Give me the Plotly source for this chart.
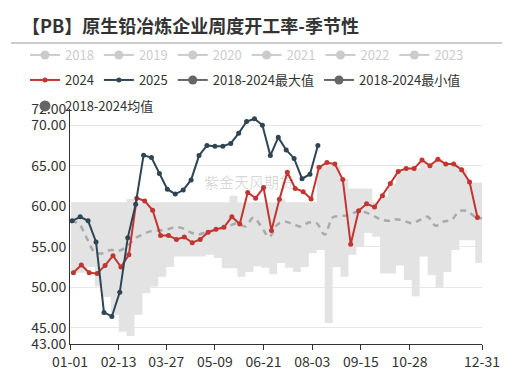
import pandas as pd
import plotly.graph_objects as go

# ---------------- data ----------------
title_text = "【PB】原生铅冶炼企业周度开工率-季节性"
watermark = "紫金天风期货"

tick_dates = ["2023-01-01", "2023-02-13", "2023-03-27", "2023-05-09", "2023-06-21",
              "2023-08-03", "2023-09-15", "2023-10-28", "2023-12-31"]
tick_labels = ["01-01", "02-13", "03-27", "05-09", "06-21", "08-03", "09-15", "10-28", "12-31"]
y_ticks = [43, 45, 50, 55, 60, 65, 70, 72]

hidden_years = ["2018", "2019", "2020", "2021", "2022", "2023"]

v2024 = [51.8, 52.75, 51.8, 51.7, 52.7, 53.9, 52.5, 54.0, 61.0, 60.65,
         59.5, 56.4, 56.4, 55.9, 56.2, 55.5, 55.9, 56.8, 57.15, 57.4,
         58.7, 57.8, 61.7, 61.0, 62.3, 57.0, 60.85, 64.2, 62.2, 61.8,
         60.9, 64.8, 65.4, 65.2, 63.3, 55.3, 59.45, 60.3, 59.9, 61.3,
         62.8, 64.3, 64.65, 64.65, 65.7, 65.0, 65.8, 65.2, 65.2, 64.5,
         63.0, 58.6]

v2025 = [58.2, 58.7, 58.2, 55.6, 46.9, 46.4, 49.4, 56.1, 60.25, 66.3,
         66.0, 64.05, 62.1, 61.5, 62.0, 63.25, 66.25, 67.5, 67.4, 67.4,
         67.75, 69.0, 70.45, 70.8, 70.0, 66.25, 68.5, 66.95, 65.9, 63.4,
         63.95, 67.5]

band_max = [60.5, 60.5, 60.5, 60.5, 60.5, 60.5, 60.5, 60.9, 60.5, 60.5,
            60.5, 60.5, 60.5, 60.5, 60.5, 60.5, 60.5, 60.5, 60.5, 60.5,
            61.3, 60.5, 60.5, 60.5, 60.5, 60.5, 60.85, 60.5, 60.5, 60.5,
            60.5, 64.9, 65.2, 65.1, 63.4, 62.2, 62.2, 62.2, 60.5, 61.3,
            62.8, 64.3, 64.65, 64.65, 65.7, 65.0, 65.8, 65.2, 65.2, 64.5,
            62.9, 62.9, 62.9]

band_min = [51.8, 51.8, 52.5, 50.1, 48.8, 46.6, 44.5, 44.0, 46.6, 49.25,
            50.1, 51.3, 52.5, 53.8, 53.8, 53.8, 53.8, 54.0, 53.6, 52.35,
            52.35, 51.3, 51.9, 52.6, 52.4, 51.6, 53.0, 52.4, 51.9, 52.5,
            54.2, 54.6, 45.6, 52.5, 51.3, 54.0, 55.0, 56.7, 56.25, 51.7,
            51.7, 52.7, 50.9, 48.9, 53.8, 51.5, 49.9, 51.9, 54.6, 55.8,
            55.8, 53.0, 53.0]

band_mean = [58.2, 57.8, 56.0, 54.3, 54.2, 54.6, 54.5, 55.0, 56.0, 56.5,
             56.9, 57.0, 57.1, 57.4, 57.3, 56.8, 56.5, 56.8, 57.0, 57.3,
             57.6, 57.9, 57.5, 58.6, 57.5, 56.2, 57.7, 58.1, 57.8, 57.5,
             58.0, 57.9, 56.5, 58.6, 58.8, 58.9, 59.3, 59.3, 58.9, 58.4,
             58.2, 58.4, 58.2, 57.9, 58.3, 58.7, 57.6, 58.1, 58.3, 59.4,
             59.4, 58.7, 58.5]

# weekly dates mapped onto one common year
d2024 = pd.date_range("2023-01-04", periods=len(v2024), freq="7D")
d2025 = pd.date_range("2023-01-03", periods=len(v2025), freq="7D")
dband = pd.date_range("2023-01-02", periods=len(band_max), freq="7D")

# ---------------- style ----------------
RED = "#c23531"
NAVY = "#2f4554"
GREY = "#666666"
FONT = "Noto Sans CJK SC, Noto Sans, sans-serif"

fig = go.Figure()

# band (min/max)
fig.add_trace(go.Scatter(x=dband, y=band_min, mode="lines", line=dict(width=0, shape="hv"),
                         showlegend=False, hoverinfo="skip", legend="legend3"))
fig.add_trace(go.Scatter(x=dband, y=band_max, mode="lines", line=dict(width=0, shape="hv"),
                         fill="tonexty", fillcolor="#e3e3e3", showlegend=False, hoverinfo="skip",
                         legend="legend3"))
# mean
fig.add_trace(go.Scatter(x=dband, y=band_mean, mode="lines",
                         line=dict(color="#aaaaaa", width=2.5, dash="6px,5px", shape="spline"),
                         showlegend=False, legend="legend3"))

# hidden years (legend only)
for yr in hidden_years:
    fig.add_trace(go.Scatter(x=[None], y=[None], mode="lines+markers", name=yr,
                             visible="legendonly", legend="legend",
                             line=dict(color="#999999", width=2),
                             marker=dict(color="#999999", size=9)))

fig.add_trace(go.Scatter(x=d2024, y=v2024, mode="lines+markers", name="2024", legend="legend2",
                         line=dict(color=RED, width=2), marker=dict(color=RED, size=5)))
fig.add_trace(go.Scatter(x=d2025, y=v2025, mode="lines+markers", name="2025", legend="legend2",
                         line=dict(color=NAVY, width=2), marker=dict(color=NAVY, size=5)))
# legend proxies for band series
fig.add_trace(go.Scatter(x=[None], y=[None], mode="lines+markers", name="2018-2024最大值",
                         legend="legend2", line=dict(color=GREY, width=2), marker=dict(color=GREY, size=9)))
fig.add_trace(go.Scatter(x=[None], y=[None], mode="lines+markers", name="2018-2024最小值",
                         legend="legend2", line=dict(color=GREY, width=2), marker=dict(color=GREY, size=9)))
fig.add_trace(go.Scatter(x=[None], y=[None], mode="markers", name="2018-2024均值",
                         legend="legend3", marker=dict(color=GREY, size=11)))

W, H = 513, 372
L, R, T, B = 70, 31, 109, 28
pw, ph = W - L - R, H - T - B


def px(xp):
    return (xp - L) / pw


def py(yp):
    return (H - B - yp) / ph


legend_common = dict(orientation="h", bgcolor="rgba(0,0,0,0)", xanchor="left", yanchor="top",
                     itemwidth=30, traceorder="normal")

fig.update_layout(
    width=W, height=H,
    margin=dict(l=L, r=R, t=T, b=B, autoexpand=False),
    paper_bgcolor="white", plot_bgcolor="white",
    font=dict(family=FONT, color="#333333"),
    legend=dict(**legend_common, x=px(25), y=py(40),
                font=dict(family=FONT, size=13, color="#999999")),
    legend2=dict(**legend_common, x=px(25), y=py(65),
                 font=dict(family=FONT, size=13, color="#333333")),
    legend3=dict(**legend_common, x=px(25), y=py(91),
                 font=dict(family=FONT, size=13, color="#333333")),
    xaxis=dict(type="date", range=["2023-01-01", "2023-12-31"], automargin=False,
               tickvals=tick_dates, ticktext=tick_labels,
               showgrid=False, showline=True, linecolor="#333333", linewidth=1,
               ticks="outside", ticklen=5, tickcolor="#333333",
               tickfont=dict(family=FONT, size=14, color="#333333"), zeroline=False),
    yaxis=dict(range=[43, 72], tickvals=y_ticks, ticktext=[f"{v:.2f}" for v in y_ticks],
               automargin=False,
               showgrid=True, gridcolor="#e6e6e6", gridwidth=1,
               showline=True, linecolor="#333333", linewidth=1, zeroline=False,
               tickfont=dict(family=FONT, size=14, color="#333333"), ticks=""),
    showlegend=True,
)

fig.add_annotation(text=title_text, xref="paper", yref="paper", x=px(20), y=py(25),
                   xanchor="left", yanchor="middle", showarrow=False,
                   font=dict(family=FONT, size=18, color="#333333", weight="bold"))
fig.add_annotation(text=watermark, xref="paper", yref="paper", x=px(249), y=py(181),
                   xanchor="center", yanchor="middle", showarrow=False,
                   font=dict(family=FONT, size=15, color="rgba(0,0,0,0.16)"))
fig.add_shape(type="line", xref="paper", yref="paper", x0=px(11), x1=px(502), y0=py(43), y1=py(43),
              line=dict(color="#cccccc", width=2))

fig.write_html("out.html", config={"displayModeBar": False},
               post_script="document.body.style.margin='0';")
